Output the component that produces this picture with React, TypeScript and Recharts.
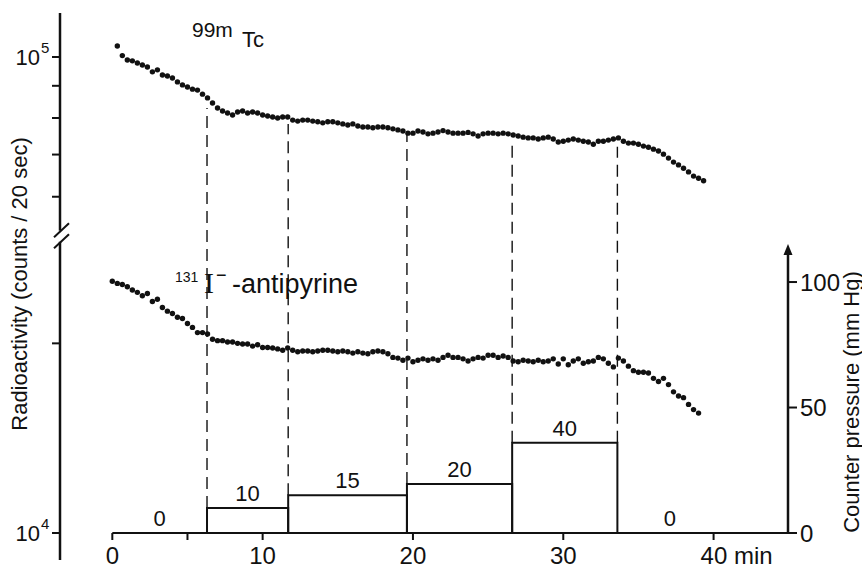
import { ComposedChart, Scatter, XAxis, YAxis, ReferenceLine, ReferenceArea, ReferenceDot } from 'recharts';

const FONT = "'Liberation Sans', Arial, sans-serif";
const INK = '#111';

// one count every 20 sec
const SAMPLE_MIN = 1 / 3;
const TC_START_MIN = 1 / 3;
const I_START_MIN = 0;

// 99mTc, counts / 20 sec, in thousands
const TC_KCOUNTS = [
  104.1, 100.5, 98.9, 98.6, 97.8, 97.1, 96.4, 94.7, 95.4, 93.6, 93.3, 92.6, 91.3, 90.3, 89.6, 88.9, 88.6, 87.3, 86.1, 84.5,
  83.0, 82.1, 81.5, 80.9, 81.8, 82.1, 81.5, 81.8, 81.5, 80.9, 80.6, 80.3, 80.0, 80.3, 80.3, 79.4, 79.1, 79.4, 79.4, 79.1,
  78.9, 78.6, 78.9, 78.9, 78.6, 78.3, 78.0, 78.3, 77.7, 77.4, 77.4, 77.2, 77.4, 77.4, 77.2, 76.9, 76.6, 76.3, 75.7, 75.7,
  76.3, 76.0, 75.5, 75.7, 76.0, 76.4, 76.0, 75.7, 75.7, 75.7, 75.9, 75.5, 74.9, 75.5, 75.7, 75.7, 75.5, 75.7, 75.5, 75.2,
  74.9, 74.6, 74.4, 74.4, 74.1, 74.4, 74.6, 74.1, 73.3, 73.5, 73.8, 74.1, 73.8, 73.5, 73.3, 72.7, 73.5, 73.5, 73.8, 74.1,
  74.4, 73.5, 73.0, 73.0, 72.7, 72.2, 71.9, 71.4, 70.9, 70.1, 69.1, 68.1, 67.4, 66.6, 65.7, 64.7, 64.2, 63.6,
];

// 131I-antipyrine, counts / 20 sec, in thousands
const I_KCOUNTS = [
  25.1, 24.9, 24.8, 24.6, 24.3, 24.1, 23.8, 24.0, 23.3, 23.5, 22.8, 22.5, 22.3, 22.0, 21.9, 21.5, 21.2, 20.8, 20.8, 20.7,
  20.3, 20.2, 20.2, 20.1, 20.1, 20.0, 19.95, 19.95, 19.8, 19.9, 19.7, 19.7, 19.66, 19.6, 19.5, 19.66, 19.5, 19.4, 19.45, 19.45,
  19.4, 19.45, 19.5, 19.5, 19.45, 19.4, 19.45, 19.4, 19.3, 19.4, 19.3, 19.25, 19.4, 19.45, 19.4, 19.25, 19.0, 18.95, 18.8, 18.95,
  18.7, 18.8, 18.9, 18.8, 18.9, 18.8, 19.0, 19.15, 19.0, 19.0, 18.9, 18.75, 18.9, 19.0, 18.95, 19.15, 19.15, 19.0, 19.1, 19.0,
  18.75, 18.7, 18.8, 18.75, 18.7, 18.8, 18.7, 18.75, 18.9, 18.55, 18.9, 18.5, 18.75, 18.9, 18.6, 18.7, 18.75, 19.0, 18.9, 18.6,
  18.35, 18.95, 18.75, 18.4, 18.1, 18.0, 18.0, 17.95, 17.6, 17.4, 17.6, 17.2, 16.75, 16.5, 16.4, 16.0, 15.7, 15.5,
];

// counter pressure steps (mm Hg)
const STEP_START = [0, 6.3, 11.7, 19.6, 26.6, 33.6];
const STEP_END = [6.3, 11.7, 19.6, 26.6, 33.6, 40.6];
const STEP_PRESSURE = [0, 10, 15, 19.5, 36, 0];
const STEP_LABELS = ['0', '10', '15', '20', '40', '0'];
// where each dashed line stops under the 99mTc curve (thousand counts)
const DASH_TOP_KCOUNTS = [83.0, 78.3, 75.7, 73.3, 72.0];

const LEFT_TICKS_KCOUNTS = [10, 20, 60, 70, 80, 90, 100];
const RIGHT_TICKS = [0, 50, 100];
const X_TICKS = [0, 5, 10, 20, 30, 40];

// broken log axis: decades above 10^4, with a piece cut out
const CUT = 0.2444;
const CUT_AT = 0.6;
const toPos = (kc: number) => {
  const d = Math.log10(kc) - 1;
  return d > CUT_AT ? d - CUT : d;
};
const POS_TOP = 0.8254;
const P_TOP = 207.2;
const pToPos = (p: number) => (p * POS_TOP) / P_TOP;

const X_MIN = -3.48;
const X_MAX = 44.95;
const AXIS_BREAK_LOW_KC = 29;
const AXIS_BREAK_HIGH_KC = 53;
const AXIS_BOTTOM_KC = 9.06;
const ARROW_P = 112;

const tcData = TC_KCOUNTS.map((kc, i) => ({ t: TC_START_MIN + i * SAMPLE_MIN, pos: toPos(kc) }));
const iData = I_KCOUNTS.map((kc, i) => ({ t: I_START_MIN + i * SAMPLE_MIN, pos: toPos(kc) }));

const Dot = (props: any) => <circle cx={props.cx} cy={props.cy} r={2.7} fill={INK} />;

const LeftTick = (props: any) => {
  const { x, y, payload } = props;
  const v = payload.value;
  let exp = '';
  if (Math.abs(v - toPos(10)) < 1e-6) exp = '4';
  else if (Math.abs(v - toPos(100)) < 1e-6) exp = '5';
  if (!exp) return <g />;
  const axisX = x + 10;
  return (
    <g fontFamily={FONT} fill={INK}>
      <text x={axisX - 20} y={y + 8} textAnchor="end" fontSize={22}>10</text>
      <text x={axisX - 19} y={y - 4} fontSize={15}>{exp}</text>
    </g>
  );
};

const XTick = (props: any) => {
  const { x, y, payload } = props;
  const v = payload.value;
  if (v === 5) return <g />;
  if (v === 40) {
    return (
      <text x={x - 13} y={y} dy="0.71em" fontSize={24} fontFamily={FONT} fill={INK}>40 min</text>
    );
  }
  return (
    <text x={x} y={y} dy="0.71em" textAnchor="middle" fontSize={24} fontFamily={FONT} fill={INK}>{v}</text>
  );
};

const BreakMark = (props: any) => {
  const { cx, cy } = props;
  return (
    <g stroke={INK} strokeWidth={2}>
      <line x1={cx - 6} y1={cy + 1} x2={cx + 9} y2={cy - 13} />
      <line x1={cx - 6} y1={cy + 12} x2={cx + 9} y2={cy - 2} />
    </g>
  );
};

const Arrow = (props: any) => {
  const { cx, cy } = props;
  return <path d={`M${cx},${cy - 8} L${cx - 4.5},${cy + 3} L${cx + 4.5},${cy + 3} Z`} fill={INK} />;
};

export default function App() {
  return (
    <div style={{ position: 'absolute', left: 0, top: 0, width: 862, height: 570, background: '#fff', overflow: 'hidden' }}>
      <ComposedChart width={862} height={570} margin={{ top: 13, right: 4, bottom: 7, left: 10 }}>
        <XAxis
          type="number"
          dataKey="t"
          domain={[X_MIN, X_MAX]}
          allowDataOverflow
          ticks={X_TICKS}
          interval={0}
          axisLine={false}
          tickSize={7}
          tickMargin={7}
          tickLine={{ stroke: INK, strokeWidth: 2 }}
          tick={<XTick />}
          height={30}
        />
        <YAxis
          yAxisId="cnt"
          type="number"
          dataKey="pos"
          domain={[0, POS_TOP]}
          allowDataOverflow
          ticks={LEFT_TICKS_KCOUNTS.map(toPos)}
          interval={0}
          axisLine={false}
          tickSize={8}
          tickMargin={2}
          tickLine={{ stroke: INK, strokeWidth: 2 }}
          tick={<LeftTick />}
          width={50}
        />
        <YAxis
          yAxisId="p"
          orientation="right"
          type="number"
          domain={[0, P_TOP]}
          allowDataOverflow
          ticks={RIGHT_TICKS}
          interval={0}
          axisLine={false}
          tickSize={9}
          tickMargin={3}
          tickLine={{ stroke: INK, strokeWidth: 2 }}
          tick={{ fontSize: 24, fill: INK, fontFamily: FONT }}
          width={70}
        />

        {STEP_START.map((s, i) => (
          <ReferenceArea
            key={`step-${i}`}
            yAxisId="p"
            x1={s}
            x2={STEP_END[i]}
            y1={0}
            y2={STEP_PRESSURE[i]}
            fill="none"
            stroke={INK}
            strokeWidth={2}
            label={{ value: STEP_LABELS[i], position: 'top', offset: 7, fontSize: 22, fill: INK, fontFamily: FONT }}
          />
        ))}

        {DASH_TOP_KCOUNTS.map((kc, j) => {
          const i = j + 1;
          const bottom = Math.max(STEP_PRESSURE[i - 1], STEP_PRESSURE[i]);
          return (
            <ReferenceLine
              key={`dash-${i}`}
              yAxisId="cnt"
              segment={[
                { x: STEP_START[i], y: pToPos(bottom) },
                { x: STEP_START[i], y: toPos(kc) },
              ]}
              stroke={INK}
              strokeWidth={1.4}
              strokeDasharray="12 7"
            />
          );
        })}

        {/* x axis line */}
        <ReferenceLine yAxisId="p" segment={[{ x: 0, y: 0 }, { x: X_MAX, y: 0 }]} stroke={INK} strokeWidth={2} />
        {/* broken left axis */}
        <ReferenceLine
          yAxisId="cnt"
          ifOverflow="visible"
          segment={[{ x: X_MIN, y: POS_TOP }, { x: X_MIN, y: toPos(AXIS_BREAK_HIGH_KC) }]}
          stroke={INK}
          strokeWidth={2.5}
        />
        <ReferenceLine
          yAxisId="cnt"
          ifOverflow="visible"
          segment={[{ x: X_MIN, y: toPos(AXIS_BREAK_LOW_KC) }, { x: X_MIN, y: toPos(AXIS_BOTTOM_KC) }]}
          stroke={INK}
          strokeWidth={2.5}
        />
        <ReferenceDot
          yAxisId="cnt"
          x={X_MIN}
          y={(toPos(AXIS_BREAK_LOW_KC) + toPos(AXIS_BREAK_HIGH_KC)) / 2}
          ifOverflow="visible"
          shape={BreakMark}
        />
        {/* right axis with arrow */}
        <ReferenceLine yAxisId="p" segment={[{ x: X_MAX, y: 0 }, { x: X_MAX, y: ARROW_P }]} stroke={INK} strokeWidth={2.5} />
        <ReferenceDot yAxisId="p" x={X_MAX} y={ARROW_P} ifOverflow="visible" shape={Arrow} />

        <Scatter yAxisId="cnt" data={tcData} shape={Dot} isAnimationActive={false} />
        <Scatter yAxisId="cnt" data={iData} shape={Dot} isAnimationActive={false} />
      </ComposedChart>

      <svg width={862} height={570} style={{ position: 'absolute', left: 0, top: 0, pointerEvents: 'none' }} fontFamily={FONT} fill={INK}>
        <text x={192} y={37} fontSize={21}>99m</text>
        <text x={242} y={47} fontSize={22}>Tc</text>
        <text x={175} y={282} fontSize={14}>131</text>
        <text x={204} y={293} fontSize={30} fontFamily="'Liberation Serif', serif">I</text>
        <text x={216} y={281} fontSize={18}>−</text>
        <text x={232} y={293} fontSize={27}>-antipyrine</text>
        <text x={19} y={284} fontSize={22} textAnchor="middle" dominantBaseline="central" transform="rotate(-90 19 284)">
          Radioactivity (counts / 20 sec)
        </text>
        <text x={851} y={402} fontSize={22} textAnchor="middle" dominantBaseline="central" transform="rotate(-90 851 402)">
          Counter pressure (mm Hg)
        </text>
      </svg>
    </div>
  );
}
